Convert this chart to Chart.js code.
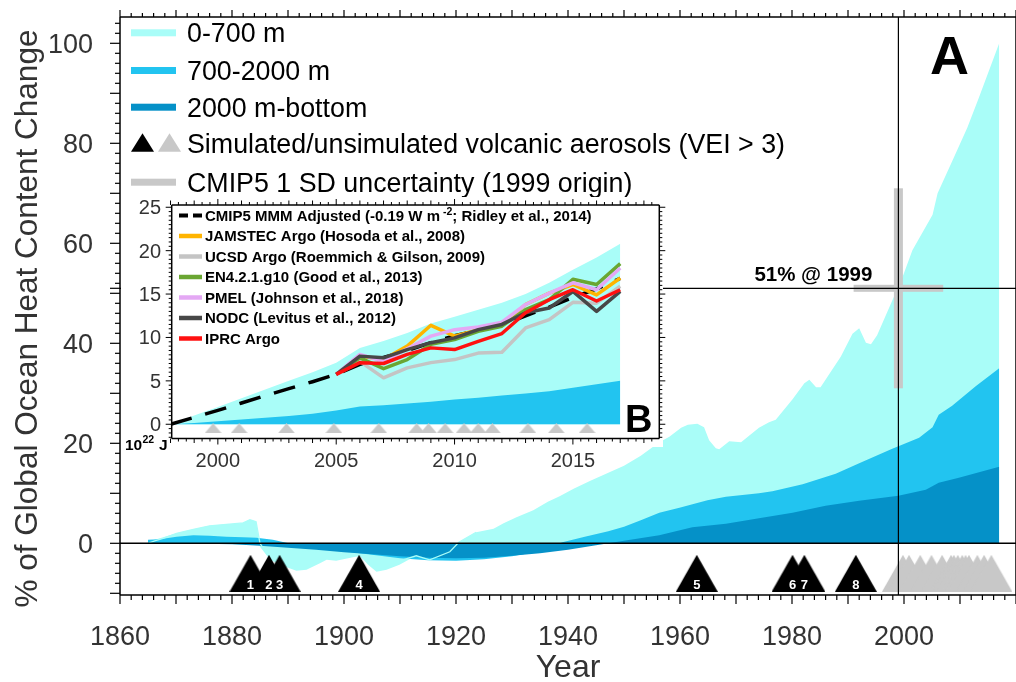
<!DOCTYPE html>
<html>
<head>
<meta charset="utf-8">
<script src="https://cdn.jsdelivr.net/npm/chart.js@4.4.1/dist/chart.umd.min.js"></script>
<style>
  html, body { margin: 0; padding: 0; background: #fff; overflow: hidden; }
  #wrap { position: relative; width: 1016px; height: 682px; overflow: hidden; }
  #mainBox { position: absolute; left: 0; top: 0; width: 1016px; height: 682px; }
  #insetBox { position: absolute; left: 121px; top: 190px; width: 545px; height: 290px; }
</style>
</head>
<body>
<div id="wrap">
  <div id="mainBox"><canvas id="main" width="1016" height="682" style="width:1016px;height:682px"></canvas></div>
  <div id="insetBox"><canvas id="inset" width="545" height="290" style="width:545px;height:290px"></canvas></div>
</div>
<script>
// ---------- Panel A: % of global ocean heat content change (2017 full depth = 100) ----------
// Upper edge of each stacked band (band tops are cumulative from the bottom layer up).
const fullDepthYears = [1865.0, 1867.1, 1870.1, 1873.1, 1876.0, 1879.0, 1880.8, 1882.0, 1883.2, 1884.3,
  1885.0, 1886.8, 1888.5, 1891.5, 1893.3, 1895.7, 1896.9, 1898.6, 1901.6, 1902.8, 1904.3, 1905.8, 1907.6,
  1909.9, 1911.7, 1912.9, 1914.7, 1916.5, 1918.9, 1920.5, 1923.6, 1926.7, 1928.5, 1930.8, 1933.8, 1936.4,
  1938.5, 1941.0, 1944.0, 1947.0, 1950.0, 1953.0, 1956.3, 1958.1, 1960.2, 1961.4, 1963.1, 1964.3, 1965.2,
  1966.4, 1967.0, 1968.8, 1970.9, 1974.1, 1975.9, 1977.1, 1980.1, 1982.2, 1983.1, 1984.3, 1985.1, 1988.7,
  1990.8, 1992.0, 1993.2, 1994.1, 1995.2, 1998.2, 1999.0, 2001.5, 2005.1, 2006.0, 2008.6, 2011.3, 2013.4, 2017.0];
const fullDepthPct = [0.3, 1.0, 2.0, 2.8, 3.5, 3.8, 3.9, 4.1, 4.7, 4.3,
  -0.7, -3.3, -4.3, -5.5, -5.3, -4.0, -3.3, -3.5, -2.8, -2.5, -4.3, -5.7, -5.3,
  -4.3, -3.2, -2.7, -3.3, -3.0, -1.7, 0.2, 2.2, 2.9, 4.0, 5.2, 6.6, 8.3,
  9.4, 10.9, 12.5, 14.0, 15.5, 17.5, 20.2, 21.3, 23.1, 23.7, 23.9, 23.2, 20.6,
  19.0, 18.8, 20.4, 20.2, 23.1, 24.2, 24.7, 28.8, 32.0, 32.7, 31.2, 31.2, 37.3,
  41.9, 43.0, 40.1, 39.8, 41.6, 49.3, 51.0, 58.6, 65.7, 70.0, 76.4, 83.1, 89.2, 100.0];

const below700Years = [1865.0, 1867.1, 1870.1, 1873.1, 1876.0, 1879.0, 1882.0, 1884.4, 1887.3, 1889.7,
  1893.0, 1896.0, 1900.0, 1905.0, 1910.0, 1915.0, 1920.0, 1925.0, 1930.0, 1935.0, 1939.0, 1943.0, 1947.2,
  1950.0, 1953.0, 1956.3, 1959.9, 1964.9, 1968.2, 1974.1, 1976.5, 1981.9, 1987.8, 1992.0, 1997.9, 1999.0,
  2002.7, 2005.1, 2006.2, 2008.6, 2012.8, 2017.0];
const below700Pct = [0.7, 0.8, 1.3, 1.6, 1.5, 1.3, 1.2, 1.1, 0.7, 0.1,
  -0.5, -1.0, -1.6, -2.3, -3.0, -3.4, -3.5, -3.2, -2.6, -1.6, 0.2, 1.3, 2.4,
  3.3, 4.6, 6.1, 7.1, 8.6, 9.3, 10.0, 10.4, 11.8, 13.9, 16.0, 18.9, 19.4,
  21.1, 23.2, 25.7, 27.5, 31.4, 35.0];

const below2000Years = [1865, 1870, 1875, 1880, 1885, 1890, 1895, 1900, 1905, 1910, 1915, 1920, 1925,
  1930, 1935, 1940, 1945, 1950, 1956.3, 1962.2, 1968.2, 1974.1, 1980.1, 1986.0, 1992.0, 1999.0, 2003.9,
  2006.2, 2009.8, 2013.4, 2017.0];
const below2000Pct = [0.1, 0.0, -0.1, -0.2, -0.5, -0.9, -1.3, -1.8, -2.2, -2.6, -2.9, -3.0, -2.9,
  -2.5, -2.0, -1.3, -0.4, 0.5, 1.6, 3.2, 3.9, 5.0, 6.1, 7.5, 8.5, 9.5, 10.7,
  12.1, 13.1, 14.2, 15.3];

// thin early full-depth trace drawn over the bands
const traceYears = [1865.0, 1866.2, 1867.7, 1870.1, 1873.1, 1876.0, 1879.0, 1882.0, 1883.2, 1884.3,
  1885.0, 1885.6, 1889.7, 1893.3, 1898.0, 1902.8, 1905.8, 1910.5, 1912.9, 1915.3, 1918.9, 1920.5, 1923.6];
const tracePct = [0.0, 0.5, 1.0, 2.0, 2.8, 3.5, 3.8, 4.1, 4.7, 4.3,
  0.0, -1.0, -1.3, -1.5, -2.1, -2.5, -2.7, -3.3, -2.5, -3.3, -1.7, 0.2, 2.2];

// volcanic eruptions (VEI > 3)
const simulatedEruptions = [1883.3, 1886.6, 1888.5, 1902.7, 1963.0, 1980.1, 1982.2, 1991.4];
const simulatedEruptionIds = ['1', '2', '3', '4', '5', '6', '7', '8'];
const unsimulatedEruptions = [1999.8, 2000.9, 2002.9, 2004.9, 2006.8, 2008.4, 2008.9, 2009.6,
  2010.4, 2011.0, 2011.6, 2013.1, 2014.3, 2015.6];

const REF_YEAR = 1999, REF_PCT = 51;     // reference point and its label
const SD_YEARS = 8, SD_PCT = 20;         // CMIP5 1 SD half-widths
const yearTicksA = [1860, 1880, 1900, 1920, 1940, 1960, 1980, 2000];
const pctTicksA = [0, 20, 40, 60, 80, 100];

// ---------- Panel B: 0-2000 m heat content, 10^22 J ----------
const yearsB = [1998, 1999, 2000, 2001, 2002, 2003, 2004, 2005, 2006, 2007, 2008, 2009, 2010,
  2011, 2012, 2013, 2014, 2015, 2016, 2017];
const model0to2000 = [0, 1.0, 2.0, 3.0, 4.0, 5.0, 6.0, 7.1, 8.8, 9.6, 10.5, 11.6, 12.4,
  13.2, 14.0, 15.0, 16.3, 17.8, 19.2, 20.8];
const model700to2000 = [0, 0.15, 0.35, 0.55, 0.75, 0.95, 1.2, 1.6, 2.05, 2.2, 2.4, 2.6, 2.85,
  3.05, 3.3, 3.55, 3.8, 4.2, 4.6, 5.0];
const cmip5Adjusted = [0, 0.8, 1.6, 2.45, 3.3, 4.1, 4.9, 5.75, 6.9, 7.7, 8.5, 9.4, 10.2,
  10.8, 11.4, 12.5, 13.5, 14.6, 15.6, 16.8];

const obsYears = [2005, 2006, 2007, 2008, 2009, 2010, 2011, 2012, 2013, 2014, 2015, 2016, 2017];
const jamstec = [5.75, 7.85, 7.45, 9.0, 11.4, 10.15, 10.9, 11.45, 13.8, 15.1, 16.1, 14.9, 16.85];
const ucsd    = [5.75, 7.25, 5.35, 6.5, 7.1, 7.45, 8.2, 8.3, 11.1, 12.05, 14.05, 13.95, 15.9];
const en4     = [5.75, 7.65, 6.4, 7.45, 9.2, 9.75, 10.7, 11.3, 13.2, 14.35, 16.7, 16.1, 18.5];
const pmel    = [5.75, 8.05, 7.25, 8.7, 10.15, 10.9, 11.2, 11.75, 13.8, 15.1, 16.3, 15.5, 18.0];
const nodc    = [5.75, 7.85, 7.65, 8.6, 9.4, 9.95, 10.9, 11.5, 12.85, 13.4, 15.3, 13.0, 15.3];
const iprc    = [5.75, 7.1, 7.0, 8.05, 8.8, 8.6, 9.55, 10.45, 12.85, 14.35, 15.5, 14.2, 15.5];

const yearTicksB = [2000, 2005, 2010, 2015];
const heatTicksB = [0, 5, 10, 15, 20, 25];

// ---------- styling ----------
const FONT = '"Liberation Sans", Arial, Helvetica, sans-serif';
const COL_0_700 = '#a9fdf8';
const COL_700_2000 = '#22c4f0';
const COL_2000_BOT = '#0591c8';
const COL_GRAY = '#c8c8c8';
const TXT = '#333333';
const VOLC_ROW_A = -6.0;    // vertical centre of the eruption markers, panel A
const VOLC_ROW_B = -0.46;   // same for panel B

const pts = (xs, ys) => xs.map((x, i) => ({ x, y: ys[i] }));

function triangleImage(w, h, color) {
  const c = document.createElement('canvas');
  c.width = w; c.height = h;
  const g = c.getContext('2d');
  g.fillStyle = color;
  g.beginPath(); g.moveTo(0, h); g.lineTo(w / 2, 0); g.lineTo(w, h); g.closePath(); g.fill();
  return c;
}

function seg(ctx, x1, y1, x2, y2, w) {
  ctx.lineWidth = w;
  ctx.beginPath(); ctx.moveTo(x1, y1); ctx.lineTo(x2, y2); ctx.stroke();
}

function text(ctx, str, x, y, font, color, align) {
  ctx.font = font; ctx.fillStyle = color;
  ctx.textAlign = align || 'left'; ctx.textBaseline = 'alphabetic';
  ctx.fillText(str, x, y);
}

// hidden scales: axes are drawn by the plugins, so no room is reserved for tick labels
const noPad = s => { s.paddingLeft = 0; s.paddingRight = 0; s.paddingTop = 0; s.paddingBottom = 0; };
const hiddenLinear = (min, max) => ({
  type: 'linear', min, max, display: false, ticks: { display: false }, grid: { display: false }, afterFit: noPad
});

// ---------- Panel A decorations ----------
const panelA = {
  id: 'panelA',
  afterDatasetsDraw(chart) {
    const { ctx, chartArea: a, scales: { x, y } } = chart;
    const X = v => x.getPixelForValue(v), Y = v => y.getPixelForValue(v);
    ctx.save();

    // CMIP5 1 SD cross at the reference point
    ctx.fillStyle = COL_GRAY;
    ctx.fillRect(X(REF_YEAR) - 4.5, Y(REF_PCT + SD_PCT), 9, Y(REF_PCT - SD_PCT) - Y(REF_PCT + SD_PCT));
    ctx.fillRect(X(REF_YEAR - SD_YEARS), Y(REF_PCT) - 3.5, X(REF_YEAR + SD_YEARS) - X(REF_YEAR - SD_YEARS), 7);

    ctx.strokeStyle = '#000';
    seg(ctx, a.left, Y(REF_PCT), a.right, Y(REF_PCT), 1.2);
    seg(ctx, X(REF_YEAR), a.top, X(REF_YEAR), a.bottom, 1.2);
    seg(ctx, a.left, Y(0), a.right, Y(0), 1.6);

    // frame
    seg(ctx, a.left, a.top, a.left, a.bottom, 1.5);
    seg(ctx, a.left, a.bottom, a.right, a.bottom, 1.5);
    seg(ctx, a.left, a.top, a.right, a.top, 1.5);
    seg(ctx, a.right, a.top, a.right, a.bottom, 1.5);

    // outward tick marks
    for (let i = 0; 1860 + 2 * i <= 2020; i++) {
      const v = 1860 + 2 * i, major = v % 10 === 0;
      seg(ctx, X(v), a.bottom, X(v), a.bottom + (major ? 9 : 5), 1.2);
      seg(ctx, X(v), a.top, X(v), a.top - (major ? 7 : 4), 1.2);
    }
    for (let i = 0; -10 + 2 * i <= 104; i++) {
      const v = -10 + 2 * i, major = v % 10 === 0;
      seg(ctx, a.left - (major ? 10 : 5), Y(v), a.left, Y(v), 1.2);
    }
    seg(ctx, a.left - 10, Y(REF_PCT), a.left, Y(REF_PCT), 1.2);

    // tick labels
    const tickFont = '27px ' + FONT;
    yearTicksA.forEach(v => text(ctx, String(v), X(v), 645, tickFont, TXT, 'center'));
    pctTicksA.forEach(v => text(ctx, String(v), 93, Y(v) + 9.7, tickFont, TXT, 'right'));

    // axis titles
    text(ctx, 'Year', (a.left + a.right) / 2, 677, '32px ' + FONT, TXT, 'center');
    ctx.save();
    ctx.translate(36.5, 318.5); ctx.rotate(-Math.PI / 2);
    text(ctx, '% of Global Ocean Heat Content Change', 0, 0, '31.5px ' + FONT, TXT, 'center');
    ctx.restore();

    // reference label
    text(ctx, `${REF_PCT}% @ ${REF_YEAR}`, X(REF_YEAR) - 26, Y(REF_PCT) - 7, 'bold 20.5px ' + FONT, '#000', 'right');

    // eruption numbers
    const meta = chart.getDatasetMeta(5);
    meta.data.forEach((pt, i) => text(ctx, simulatedEruptionIds[i], pt.x, 589, 'bold 13px ' + FONT, '#fff', 'center'));

    // panel letter
    text(ctx, 'A', 930, 74, 'bold 54px ' + FONT, '#000', 'left');

    // legend
    const legFont = '26.8px ' + FONT;
    const rows = [42.3, 80, 116.7, 153.3, 191.7];
    const swatch = (col, yy) => { ctx.fillStyle = col; ctx.fillRect(131, yy - 3.5, 45, 7); };
    swatch(COL_0_700, rows[0] - 9.5);
    swatch(COL_700_2000, rows[1] - 9.5);
    swatch(COL_2000_BOT, rows[2] - 9.5);
    swatch(COL_GRAY, rows[4] - 9.5);
    const tri = (x0, col) => {
      ctx.fillStyle = col; ctx.beginPath();
      ctx.moveTo(x0, 151.7); ctx.lineTo(x0 + 11.5, 133.3); ctx.lineTo(x0 + 23, 151.7); ctx.closePath(); ctx.fill();
    };
    tri(131, '#000'); tri(158, COL_GRAY);
    text(ctx, '0-700 m', 187, rows[0], legFont, '#000');
    text(ctx, '700-2000 m', 187, rows[1], legFont, '#000');
    text(ctx, '2000 m-bottom', 187, rows[2], legFont, '#000');
    text(ctx, 'Simulated/unsimulated volcanic aerosols (VEI > 3)', 187, rows[3], legFont, '#000');
    text(ctx, 'CMIP5 1 SD uncertainty (1999 origin)', 187, rows[4], legFont, '#000');

    ctx.restore();
  }
};

const fillSet = (label, xs, ys, color, order) => ({
  label, data: pts(xs, ys), fill: 'origin', backgroundColor: color,
  borderColor: 'rgba(0,0,0,0)', borderWidth: 1, pointRadius: 0, order
});

new Chart(document.getElementById('main'), {
  type: 'line',
  data: {
    datasets: [
      fillSet('0-700 m', fullDepthYears, fullDepthPct, COL_0_700, 6),
      fillSet('700-2000 m', below700Years, below700Pct, COL_700_2000, 5),
      fillSet('2000 m-bottom', below2000Years, below2000Pct, COL_2000_BOT, 4),
      { label: 'trace', data: pts(traceYears, tracePct), fill: false, borderColor: COL_0_700,
        borderWidth: 1.3, pointRadius: 0, order: 3 },
      { label: 'unsimulated', data: unsimulatedEruptions.map(v => ({ x: v, y: VOLC_ROW_A })),
        showLine: false, pointStyle: triangleImage(42, 37, COL_GRAY), pointRadius: 1, order: 2 },
      { label: 'simulated', data: simulatedEruptions.map(v => ({ x: v, y: VOLC_ROW_A })),
        showLine: false, pointStyle: triangleImage(42, 37, '#000'), pointRadius: 1, order: 1 }
    ]
  },
  options: {
    responsive: false, animation: false, devicePixelRatio: 1,
    // the plot frame runs to x = 2020, one pixel past the right edge of the canvas
    layout: { autoPadding: false, padding: { left: 120, top: 17, right: -1, bottom: 87 } },
    elements: { line: { tension: 0 } },
    scales: { x: hiddenLinear(1860, 2020), y: hiddenLinear(-10.34, 105.26) },
    plugins: { legend: { display: false }, tooltip: { enabled: false } }
  },
  plugins: [panelA]
});

// ---------- Panel B ----------
const seriesB = [
  { label: 'JAMSTEC Argo (Hosoda et al., 2008)', data: jamstec, color: '#ffb400' },
  { label: 'UCSD Argo (Roemmich & Gilson, 2009)', data: ucsd, color: '#c4c4c4' },
  { label: 'EN4.2.1.g10 (Good et al., 2013)', data: en4, color: '#6aa632' },
  { label: 'PMEL (Johnson et al., 2018)', data: pmel, color: '#e4a8f4' },
  { label: 'NODC (Levitus et al., 2012)', data: nodc, color: '#474747' },
  { label: 'IPRC Argo', data: iprc, color: '#ff1010' }
];

const panelB = {
  id: 'panelB',
  beforeDraw(chart) {
    const ctx = chart.ctx;
    ctx.save(); ctx.fillStyle = '#fff'; ctx.fillRect(0, 7, 542, 250); ctx.restore();
  },
  afterDatasetsDraw(chart) {
    const { ctx, chartArea: a, scales: { x, y } } = chart;
    const X = v => x.getPixelForValue(v), Y = v => y.getPixelForValue(v);
    ctx.save();
    ctx.strokeStyle = '#000';
    seg(ctx, a.left, a.top, a.left, a.bottom, 1.5);
    seg(ctx, a.right, a.top, a.right, a.bottom, 1.5);
    seg(ctx, a.left, a.top, a.right, a.top, 1.5);
    seg(ctx, a.left, a.bottom, a.right, a.bottom, 1.5);

    for (let i = 0; 1998 + i / 3 <= 2018.5; i++) {
      const v = 1998 + i / 3, major = i % 3 === 0;
      const L = major ? (Math.round(v) % 5 === 0 ? 6 : 4.5) : 3;
      seg(ctx, X(v), a.bottom, X(v), a.bottom + L, 1);
      seg(ctx, X(v), a.top, X(v), a.top - L, 1);
    }
    for (let i = 0; -1.5 + i * 0.5 <= 25.2; i++) {
      const v = -1.5 + i * 0.5, major = Math.abs(v % 5) < 1e-6;
      const L = major ? 6 : 3;
      seg(ctx, a.left - L, Y(v), a.left, Y(v), 1);
      seg(ctx, a.right, Y(v), a.right + L, Y(v), 1);
    }

    const tickFont = '20px ' + FONT;
    yearTicksB.forEach(v => text(ctx, String(v), X(v), 277, tickFont, TXT, 'center'));
    heatTicksB.forEach(v => text(ctx, String(v), 40, Y(v) + 7, tickFont, TXT, 'right'));

    // units label
    const bf = s => 'bold ' + s + 'px ' + FONT;
    text(ctx, '10', 4, 260, bf(15.5), '#000');
    text(ctx, '22', 21.5, 252.5, bf(10.5), '#000');
    text(ctx, 'J', 38, 260, bf(15.5), '#000');

    // panel letter
    text(ctx, 'B', 504, 242, bf(38), '#000');

    // legend
    const lf = bf(15);
    const rowY = i => 25.5 + i * 20.5;
    ctx.lineCap = 'butt';
    ctx.strokeStyle = '#000';
    ctx.setLineDash([9, 5]);
    seg(ctx, 58, rowY(0), 81, rowY(0), 4);
    ctx.setLineDash([]);
    let tx = 84;
    const p1 = 'CMIP5 MMM Adjusted (-0.19 W m';
    text(ctx, p1, tx, rowY(0) + 5.4, lf, '#000');
    ctx.font = lf; tx += ctx.measureText(p1).width + 3;
    text(ctx, '-2', tx, rowY(0) - 1, bf(10.5), '#000');
    ctx.font = bf(10.5); tx += ctx.measureText('-2').width;
    text(ctx, '; Ridley et al., 2014)', tx, rowY(0) + 5.4, lf, '#000');
    seriesB.forEach((s, i) => {
      ctx.strokeStyle = s.color;
      seg(ctx, 58, rowY(i + 1), 81, rowY(i + 1), 4.5);
      text(ctx, s.label, 84, rowY(i + 1) + 5.4, lf, '#000');
    });
    ctx.restore();
  }
};

const lineSet = (label, data, color, order, dash) => ({
  label, data: pts(obsYears, data), fill: false, borderColor: color, borderWidth: 3.5,
  pointRadius: 0, order, borderDash: dash || [], borderCapStyle: 'butt', borderJoinStyle: 'round'
});

new Chart(document.getElementById('inset'), {
  type: 'line',
  data: {
    datasets: [
      fillSet('0-700 m', yearsB, model0to2000, COL_0_700, 20),
      fillSet('700-2000 m', yearsB, model700to2000, COL_700_2000, 19),
      { label: 'unsimulated', data: unsimulatedEruptions.map(v => ({ x: v, y: VOLC_ROW_B })),
        showLine: false, pointStyle: triangleImage(17, 10, COL_GRAY), pointRadius: 1, order: 18 },
      { label: 'CMIP5 MMM Adjusted', data: pts(yearsB, cmip5Adjusted), fill: false, borderColor: '#000',
        borderWidth: 3.5, borderDash: [22, 14], borderCapStyle: 'butt', pointRadius: 0, order: 17 },
      ...seriesB.map((s, i) => lineSet(s.label, s.data, s.color, 10 - i))
    ]
  },
  options: {
    responsive: false, animation: false, devicePixelRatio: 1,
    layout: { autoPadding: false, padding: { left: 50.7, top: 15, right: 6.7, bottom: 41.5 } },
    elements: { line: { tension: 0 } },
    scales: { x: hiddenLinear(1998.05, 2018.65), y: hiddenLinear(-1.64, 25.26) },
    plugins: { legend: { display: false }, tooltip: { enabled: false } }
  },
  plugins: [panelB]
});
</script>
</body>
</html>
